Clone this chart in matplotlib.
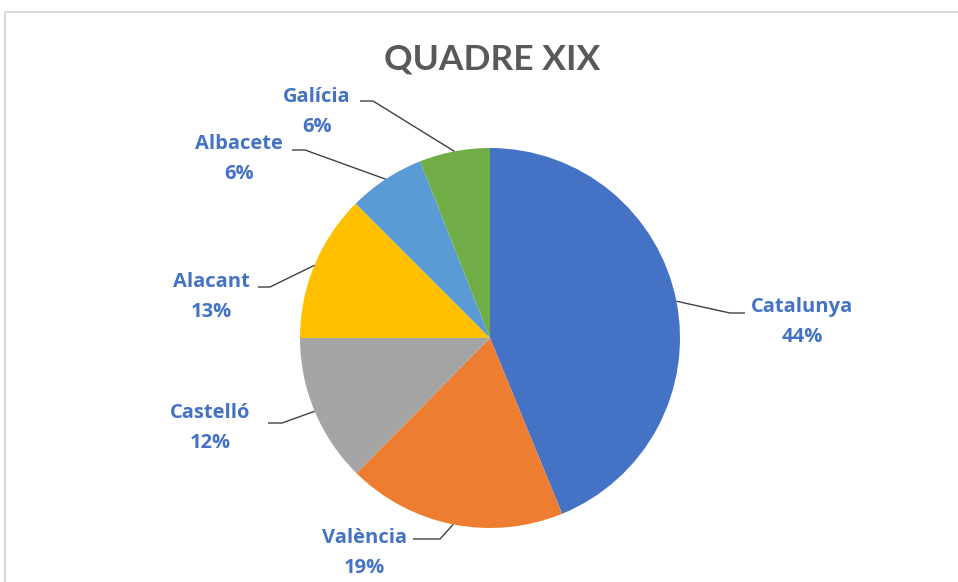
import numpy as np
import matplotlib
matplotlib.use("Agg")
import matplotlib.pyplot as plt
from matplotlib.patches import Rectangle

# ---- data ----
categories = ["Catalunya", "València", "Castelló", "Alacant", "Albacete", "Galícia"]
values = [43.8, 18.6, 12.6, 12.5, 6.5, 6.0]
pct_labels = ["44%", "19%", "12%", "13%", "6%", "6%"]
colors = ["#4472C4", "#ED7D31", "#A5A5A5", "#FFC000", "#5B9BD5", "#70AD47"]
title = "QUADRE XIX"

# ---- layout (pixels) ----
W, H, DPI = 958, 582, 100
cx, cy, R = 490, 338, 190
# label centre (px), elbow point (px), horizontal end (px)
label_pos = [(802, 322), (364, 553), (210, 428), (211, 297), (239, 159), (317, 112)]
elbow = [(730, 313), (440, 539), (282, 423), (270, 287), (305, 150), (373, 101)]
hend = [(745, 313), (413, 539), (268, 423), (258, 287), (292, 150), (360, 101)]

plt.rcParams['font.family'] = ['Lato', 'DejaVu Sans']

fig = plt.figure(figsize=(W / DPI, H / DPI), dpi=DPI)
ax = fig.add_axes([0, 0, 1, 1])
ax.axis('off')

def px(x, y):
    return ((x - cx) / R, (cy - y) / R)

wedges, _ = ax.pie(values, colors=colors, startangle=90, counterclock=False,
                   radius=1.0, center=(0, 0), frame=False,
                   wedgeprops=dict(linewidth=0))
ax.set_xlim(-cx / R, (W - cx) / R)
ax.set_ylim(-(H - cy) / R, cy / R)
ax.set_aspect('equal', adjustable='datalim')

for i, w in enumerate(wedges):
    ang = np.deg2rad((w.theta1 + w.theta2) / 2)
    ex, ey = np.cos(ang), np.sin(ang)
    elx, ely = px(*elbow[i])
    hx, hy = px(*hend[i])
    ax.plot([ex, elx, hx], [ey, ely, hy], color="#404040", lw=1.0,
            solid_capstyle='butt')
    lx, ly = px(*label_pos[i])
    ax.text(lx, ly, f"{categories[i]}\n{pct_labels[i]}", ha='center', va='center',
            color="#4472C4", fontsize=14.5, fontweight='bold', linespacing=1.68,
            family=['Open Sans', 'DejaVu Sans'])

fig.text(492 / W, 1 - 60 / H, title, ha='center', va='center',
         color="#595959", fontsize=25.5, fontweight='bold')

# chart frame
fig.patches.append(Rectangle((5 / W, -0.1), 1.2, 1 - 11.5 / H + 0.1,
                             transform=fig.transFigure, fill=False,
                             edgecolor="#D9D9D9", lw=1.5))

fig.savefig("out.png", dpi=DPI, facecolor="white")
